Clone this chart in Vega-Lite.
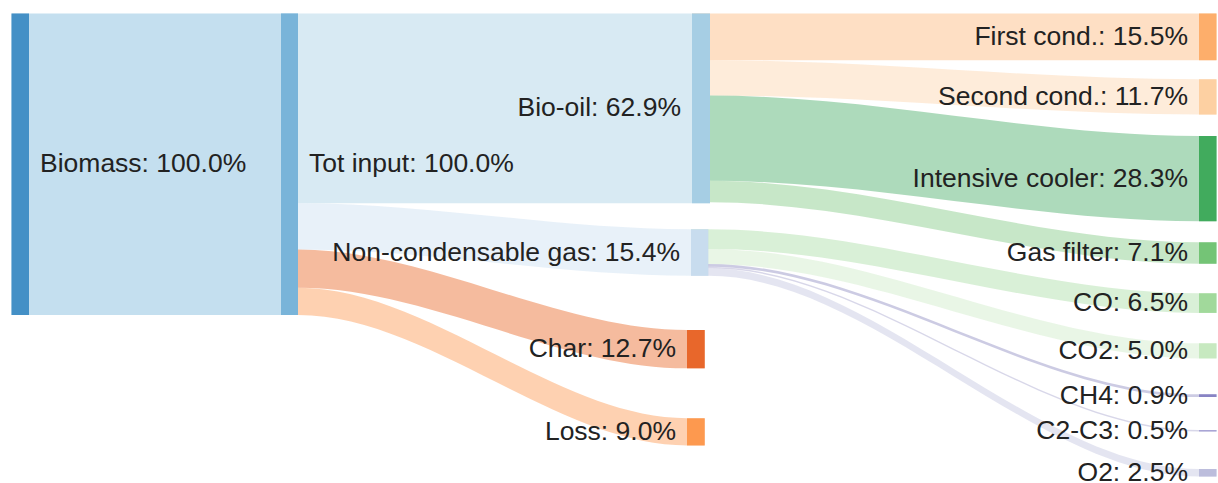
{
  "$schema": "https://vega.github.io/schema/vega-lite/v6.json",
  "width": 1218,
  "height": 483,
  "autosize": "none",
  "padding": 0,
  "background": "white",
  "config": {"view": {"stroke": null}},
  "resolve": {"scale": {"color": "independent"}},
  "datasets": {
    "nodes": [
      {"name": "Biomass", "label": "Biomass: 100.0%", "col": 0, "x0": 11.5, "x1": 29, "y0": 0, "y1": 100},
      {"name": "Tot input", "label": "Tot input: 100.0%", "col": 1, "x0": 281, "x1": 298, "y0": 0, "y1": 100},
      {"name": "Bio-oil", "label": "Bio-oil: 62.9%", "col": 2, "x0": 692, "x1": 710, "y0": 0, "y1": 62.9},
      {"name": "Non-condensable gas", "label": "Non-condensable gas: 15.4%", "col": 2, "x0": 691, "x1": 708.3, "y0": 71.58, "y1": 86.98},
      {"name": "Char", "label": "Char: 12.7%", "col": 2, "x0": 687, "x1": 704.7, "y0": 104.98, "y1": 117.68},
      {"name": "Loss", "label": "Loss: 9.0%", "col": 2, "x0": 687, "x1": 704.7, "y0": 134.26, "y1": 143.26},
      {"name": "First cond.", "label": "First cond.: 15.5%", "col": 3, "x0": 1199, "x1": 1216.5, "y0": 0, "y1": 15.5},
      {"name": "Second cond.", "label": "Second cond.: 11.7%", "col": 3, "x0": 1199, "x1": 1216.5, "y0": 21.82, "y1": 33.52},
      {"name": "Intensive cooler", "label": "Intensive cooler: 28.3%", "col": 3, "x0": 1199, "x1": 1216.5, "y0": 40.63, "y1": 68.93},
      {"name": "Gas filter", "label": "Gas filter: 7.1%", "col": 3, "x0": 1199, "x1": 1216.5, "y0": 75.89, "y1": 82.99},
      {"name": "CO", "label": "CO: 6.5%", "col": 3, "x0": 1199, "x1": 1216.5, "y0": 92.8, "y1": 99.3},
      {"name": "CO2", "label": "CO2: 5.0%", "col": 3, "x0": 1199, "x1": 1216.5, "y0": 109.39, "y1": 114.39},
      {"name": "CH4", "label": "CH4: 0.9%", "col": 3, "x0": 1199, "x1": 1216.5, "y0": 126.3, "y1": 127.2},
      {"name": "C2-C3", "label": "C2-C3: 0.5%", "col": 3, "x0": 1199, "x1": 1216.5, "y0": 138.14, "y1": 138.64},
      {"name": "O2", "label": "O2: 2.5%", "col": 3, "x0": 1199, "x1": 1216.5, "y0": 151.08, "y1": 153.58}
    ],
    "links": [
      {"link": "L1", "target": "Tot input", "x": 11.5, "y0": 0, "y1": 100},
      {"link": "L1", "target": "Tot input", "x": 29, "y0": 0, "y1": 100},
      {"link": "L1", "target": "Tot input", "x": 281, "y0": 0, "y1": 100},
      {"link": "L1", "target": "Tot input", "x": 298, "y0": 0, "y1": 100},
      {"link": "L2", "target": "Bio-oil", "x": 281, "y0": 0, "y1": 62.9},
      {"link": "L2", "target": "Bio-oil", "x": 298, "y0": 0, "y1": 62.9},
      {"link": "L2", "target": "Bio-oil", "x": 692, "y0": 0, "y1": 62.9},
      {"link": "L2", "target": "Bio-oil", "x": 710, "y0": 0, "y1": 62.9},
      {"link": "L3", "target": "Non-condensable gas", "x": 281, "y0": 62.9, "y1": 78.3},
      {"link": "L3", "target": "Non-condensable gas", "x": 298, "y0": 62.9, "y1": 78.3},
      {"link": "L3", "target": "Non-condensable gas", "x": 691, "y0": 71.58, "y1": 86.98},
      {"link": "L3", "target": "Non-condensable gas", "x": 708.3, "y0": 71.58, "y1": 86.98},
      {"link": "L4", "target": "Char", "x": 281, "y0": 78.3, "y1": 91},
      {"link": "L4", "target": "Char", "x": 298, "y0": 78.3, "y1": 91},
      {"link": "L4", "target": "Char", "x": 687, "y0": 104.98, "y1": 117.68},
      {"link": "L4", "target": "Char", "x": 704.7, "y0": 104.98, "y1": 117.68},
      {"link": "L5", "target": "Loss", "x": 281, "y0": 91, "y1": 100},
      {"link": "L5", "target": "Loss", "x": 298, "y0": 91, "y1": 100},
      {"link": "L5", "target": "Loss", "x": 687, "y0": 134.26, "y1": 143.26},
      {"link": "L5", "target": "Loss", "x": 704.7, "y0": 134.26, "y1": 143.26},
      {"link": "L6", "target": "First cond.", "x": 692, "y0": 0, "y1": 15.5},
      {"link": "L6", "target": "First cond.", "x": 710, "y0": 0, "y1": 15.5},
      {"link": "L6", "target": "First cond.", "x": 1199, "y0": 0, "y1": 15.5},
      {"link": "L6", "target": "First cond.", "x": 1216.5, "y0": 0, "y1": 15.5},
      {"link": "L7", "target": "Second cond.", "x": 692, "y0": 15.5, "y1": 27.2},
      {"link": "L7", "target": "Second cond.", "x": 710, "y0": 15.5, "y1": 27.2},
      {"link": "L7", "target": "Second cond.", "x": 1199, "y0": 21.82, "y1": 33.52},
      {"link": "L7", "target": "Second cond.", "x": 1216.5, "y0": 21.82, "y1": 33.52},
      {"link": "L8", "target": "Intensive cooler", "x": 692, "y0": 27.2, "y1": 55.5},
      {"link": "L8", "target": "Intensive cooler", "x": 710, "y0": 27.2, "y1": 55.5},
      {"link": "L8", "target": "Intensive cooler", "x": 1199, "y0": 40.63, "y1": 68.93},
      {"link": "L8", "target": "Intensive cooler", "x": 1216.5, "y0": 40.63, "y1": 68.93},
      {"link": "L9", "target": "Gas filter", "x": 692, "y0": 55.5, "y1": 62.6},
      {"link": "L9", "target": "Gas filter", "x": 710, "y0": 55.5, "y1": 62.6},
      {"link": "L9", "target": "Gas filter", "x": 1199, "y0": 75.89, "y1": 82.99},
      {"link": "L9", "target": "Gas filter", "x": 1216.5, "y0": 75.89, "y1": 82.99},
      {"link": "L10", "target": "CO", "x": 691, "y0": 71.58, "y1": 78.08},
      {"link": "L10", "target": "CO", "x": 708.3, "y0": 71.58, "y1": 78.08},
      {"link": "L10", "target": "CO", "x": 1199, "y0": 92.8, "y1": 99.3},
      {"link": "L10", "target": "CO", "x": 1216.5, "y0": 92.8, "y1": 99.3},
      {"link": "L11", "target": "CO2", "x": 691, "y0": 78.08, "y1": 83.08},
      {"link": "L11", "target": "CO2", "x": 708.3, "y0": 78.08, "y1": 83.08},
      {"link": "L11", "target": "CO2", "x": 1199, "y0": 109.39, "y1": 114.39},
      {"link": "L11", "target": "CO2", "x": 1216.5, "y0": 109.39, "y1": 114.39},
      {"link": "L12", "target": "CH4", "x": 691, "y0": 83.08, "y1": 83.98},
      {"link": "L12", "target": "CH4", "x": 708.3, "y0": 83.08, "y1": 83.98},
      {"link": "L12", "target": "CH4", "x": 1199, "y0": 126.3, "y1": 127.2},
      {"link": "L12", "target": "CH4", "x": 1216.5, "y0": 126.3, "y1": 127.2},
      {"link": "L13", "target": "C2-C3", "x": 691, "y0": 83.98, "y1": 84.48},
      {"link": "L13", "target": "C2-C3", "x": 708.3, "y0": 83.98, "y1": 84.48},
      {"link": "L13", "target": "C2-C3", "x": 1199, "y0": 138.14, "y1": 138.64},
      {"link": "L13", "target": "C2-C3", "x": 1216.5, "y0": 138.14, "y1": 138.64},
      {"link": "L14", "target": "O2", "x": 691, "y0": 84.48, "y1": 86.98},
      {"link": "L14", "target": "O2", "x": 708.3, "y0": 84.48, "y1": 86.98},
      {"link": "L14", "target": "O2", "x": 1199, "y0": 151.08, "y1": 153.58},
      {"link": "L14", "target": "O2", "x": 1216.5, "y0": 151.08, "y1": 153.58}
    ]
  },
  "layer": [
    {
      "data": {"name": "links"},
      "mark": {"type": "area", "orient": "vertical", "interpolate": "monotone", "fillOpacity": 0.4},
      "encoding": {
        "x": {"field": "x", "type": "quantitative", "scale": {"domain": [0, 1218], "nice": false, "zero": false}, "axis": null},
        "y": {"field": "y0", "type": "quantitative", "stack": null, "scale": {"domain": [-4.478, 155.72], "reverse": true, "nice": false, "zero": false}, "axis": null},
        "y2": {"field": "y1"},
        "detail": {"field": "link", "type": "nominal"},
        "color": {
          "field": "target", "type": "nominal", "legend": null,
          "scale": {
            "domain": ["Tot input", "Bio-oil", "Non-condensable gas", "Char", "Loss", "First cond.", "Second cond.", "Intensive cooler", "Gas filter", "CO", "CO2", "CH4", "C2-C3", "O2"],
            "range": ["#6baed6", "#9ecae1", "#c6dbef", "#e6550d", "#fd8d3c", "#fdae6b", "#fdd0a2", "#31a354", "#74c476", "#a1d99b", "#c7e9c0", "#807dba", "#9e9ac8", "#bcbddc"]
          }
        }
      }
    },
    {
      "data": {"name": "nodes"},
      "mark": {"type": "rect"},
      "encoding": {
        "x": {"field": "x0", "type": "quantitative"},
        "x2": {"field": "x1"},
        "y": {"field": "y0", "type": "quantitative"},
        "y2": {"field": "y1"},
        "color": {
          "field": "name", "type": "nominal", "legend": null,
          "scale": {
            "domain": ["Biomass", "Tot input", "Bio-oil", "Non-condensable gas", "Char", "Loss", "First cond.", "Second cond.", "Intensive cooler", "Gas filter", "CO", "CO2", "CH4", "C2-C3", "O2"],
            "range": ["#4490c6", "#79b4d9", "#a6cee4", "#c8dcee", "#e8672b", "#fd994f", "#fdae6b", "#fdd0a2", "#41ab5d", "#74c476", "#a1d99b", "#c7e9c0", "#8884c4", "#a9a5d5", "#bcbddc"]
          }
        }
      }
    },
    {
      "data": {"name": "nodes"},
      "transform": [{"filter": "datum.col < 2"}, {"calculate": "(datum.y0 + datum.y1) / 2", "as": "ymid"}],
      "mark": {"type": "text", "align": "left", "baseline": "middle", "dx": 11, "font": "Liberation Sans", "fontSize": 26.5, "color": "#222222"},
      "encoding": {
        "x": {"field": "x1", "type": "quantitative"},
        "y": {"field": "ymid", "type": "quantitative"},
        "text": {"field": "label"}
      }
    },
    {
      "data": {"name": "nodes"},
      "transform": [{"filter": "datum.col >= 2"}, {"calculate": "(datum.y0 + datum.y1) / 2", "as": "ymid"}],
      "mark": {"type": "text", "align": "right", "baseline": "middle", "dx": -11, "font": "Liberation Sans", "fontSize": 26.5, "color": "#222222"},
      "encoding": {
        "x": {"field": "x0", "type": "quantitative"},
        "y": {"field": "ymid", "type": "quantitative"},
        "text": {"field": "label"}
      }
    }
  ]
}
